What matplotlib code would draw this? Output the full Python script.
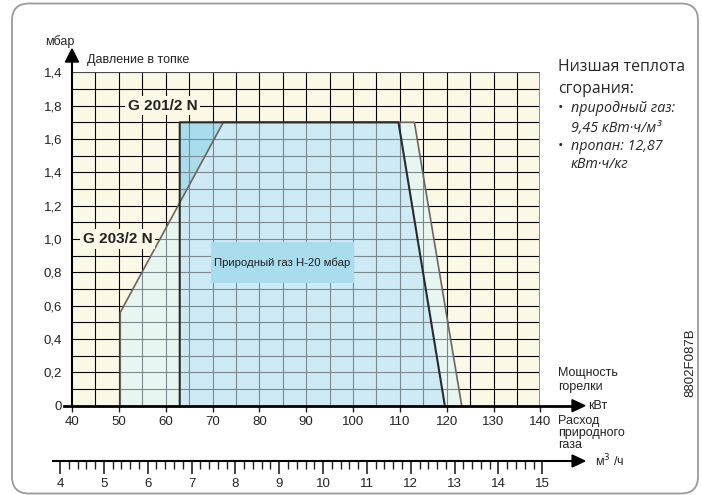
import matplotlib
matplotlib.use("Agg")
import matplotlib.pyplot as plt
import numpy as np
from matplotlib.patches import Polygon, Rectangle, FancyBboxPatch
from matplotlib.ticker import MultipleLocator

plt.rcParams['font.family'] = ['Liberation Sans', 'DejaVu Sans']

# burner output axis (kW) and furnace pressure axis (mbar)
kw_ticks = [40, 50, 60, 70, 80, 90, 100, 110, 120, 130, 140]
p_ticks = [0, 0.2, 0.4, 0.6, 0.8, 1.0, 1.2, 1.4, 1.6, 1.8, 2.0]
p_labels = ['0', '0,2', '0,4', '0,6', '0,8', '1,0', '1,2', '1,4', '1,6', '1,8', '1,4']

# working fields
g201_kw = [63, 63, 109.7, 119.6]
g201_mbar = [0, 1.7, 1.7, 0]
g203_kw = [50.3, 50.3, 72.3, 113.1, 123.2]
g203_mbar = [0, 0.56, 1.7, 1.7, 0]

# gas flow axis (m3/h)
flow_ticks = [4, 5, 6, 7, 8, 9, 10, 11, 12, 13, 14, 15]

W, H = 702, 495
fx = lambda px: px / W
fy = lambda py: 1 - py / H

fig = plt.figure(figsize=(7.02, 4.95), dpi=100)
ax = fig.add_axes([fx(72), fy(405.7), 468.4 / W, 333.4 / H])
ax.set_xlim(40, 140)
ax.set_ylim(0, 2.0)
ax.set_facecolor('#fbf9e6')
for s in ax.spines.values():
    s.set_visible(False)

# grid (black under the fields)
vx = np.arange(45, 140, 5)
hy = np.arange(0.1, 2.01, 0.1)
ax.vlines(vx, 0, 2.0, color='black', lw=0.8, zorder=1)
ax.hlines(hy, 40, 140, color='black', lw=0.8, zorder=1)
ax.vlines([140], 0, 2.0, color='#8a8a80', lw=1.4, zorder=1)
ax.hlines([2.0], 40, 140, color='#555555', lw=1.3, zorder=1)

# fill regions
y63 = np.interp(63, g203_kw[1:3], g203_mbar[1:3])
ax.add_patch(Polygon(np.column_stack([g203_kw, g203_mbar]), closed=True,
                     facecolor='#e7f6f1', edgecolor='none', zorder=2))
ax.add_patch(Polygon(np.column_stack([g201_kw, g201_mbar]), closed=True,
                     facecolor='#a9dcec', edgecolor='none', zorder=2))
inter_kw = [g201_kw[0], g201_kw[0], g203_kw[2], g201_kw[2], g201_kw[3]]
inter_mbar = [0, y63, g203_mbar[2], g201_mbar[2], 0]
ax.add_patch(Polygon(np.column_stack([inter_kw, inter_mbar]), closed=True,
                     facecolor='#cdeaf5', edgecolor='none', zorder=2))

# grey grid over the fields
union_kw = [g203_kw[0], g203_kw[1], g201_kw[0], g201_kw[1], g203_kw[3], g203_kw[4]]
union_mbar = [0, g203_mbar[1], y63, g201_mbar[1], g203_mbar[3], 0]
clip = Polygon(np.column_stack([union_kw, union_mbar]), closed=True,
               facecolor='none', edgecolor='none', zorder=2)
ax.add_patch(clip)
gv = ax.vlines(vx, 0, 2.0, color='#7d898d', lw=0.8, zorder=3)
gh = ax.hlines(hy, 40, 140, color='#7d898d', lw=0.8, zorder=3)
gv.set_clip_path(clip)
gh.set_clip_path(clip)

# outlines
ax.plot(g203_kw, g203_mbar, color='#6e655c', lw=1.2, zorder=4)
ax.plot(g201_kw, g201_mbar, color='#2a2a2a', lw=1.5, zorder=4)

# labels
ax.text(59.4, 1.8, 'G 201/2 N', fontsize=11, fontweight='bold', ha='center', va='center',
        color='#222222', zorder=5, bbox=dict(facecolor='#fbf9e6', edgecolor='none', pad=2))
ax.text(49.7, 1.0, 'G 203/2 N', fontsize=11, fontweight='bold', ha='center', va='center',
        color='#222222', zorder=5, bbox=dict(facecolor='#fbf9e6', edgecolor='none', pad=2))
ax.add_patch(Rectangle((69.7, 0.736), 30.5, 0.246, facecolor='#a9dcec', edgecolor='none', zorder=5))
ax.text(84.95, 0.859, 'Природный газ H-20 мбар', fontsize=8.2, ha='center', va='center',
        color='#222222', zorder=6)

# axes with arrows
ax.plot([38.3, 147], [0, 0], color='black', lw=2, clip_on=False, zorder=6)
ax.add_patch(Polygon([[146.75, 0.036], [146.75, -0.036], [149.5, 0]], closed=True,
                     color='black', clip_on=False, zorder=6))
ax.plot([40, 40], [0, 2.062], color='black', lw=1.5, clip_on=False, zorder=6)
ax.add_patch(Polygon([[38.6, 2.062], [41.4, 2.062], [40, 2.14]], closed=True,
                     color='black', clip_on=False, zorder=6))

ax.set_xticks(kw_ticks)
ax.set_yticks(p_ticks, p_labels)
ax.tick_params(axis='x', direction='out', length=4.5, width=1, pad=3, labelsize=9.5, colors='#222222')
ax.tick_params(axis='y', length=0, pad=7, labelsize=9.5, colors='#222222')

# gas flow scale
ax2 = fig.add_axes([fx(60), fy(471), 482.3 / W, 20 / H])
ax2.set_xlim(4, 15)
ax2.set_ylim(-1, 1)
ax2.patch.set_visible(False)
for s in ax2.spines.values():
    s.set_visible(False)
ax2.spines['bottom'].set_position(('data', 0))
ax2.set_yticks([])
ax2.set_xticks(flow_ticks)
ax2.xaxis.set_minor_locator(MultipleLocator(0.2))
ax2.tick_params(axis='x', which='major', direction='out', length=9, width=1.2, pad=3,
                labelsize=9.5, colors='#222222')
ax2.tick_params(axis='x', which='minor', direction='out', length=5.5, width=1, colors='#222222')
ax2.plot([3.84, 15.75], [0, 0], color='black', lw=1.5, clip_on=False)
ax2.add_patch(Polygon([[15.68, 0.6], [15.68, -0.6], [15.97, 0]], closed=True,
                      color='black', clip_on=False))

# texts around the chart
fig.text(fx(60), fy(42), 'мбар', fontsize=9, ha='center', va='center', color='#222222')
fig.text(fx(87), fy(60), 'Давление в топке', fontsize=9, ha='left', va='center', color='#222222')
fig.text(fx(558), fy(380), 'Мощность\nгорелки', fontsize=9, ha='left', va='center',
         linespacing=1.2, color='#222222')
fig.text(fx(588), fy(406), 'кВт', fontsize=9, ha='left', va='center', color='#222222')
fig.text(fx(558), fy(433), 'Расход\nприродного\nгаза', fontsize=9, ha='left', va='center',
         linespacing=0.95, color='#222222')
fig.text(fx(595), fy(461), 'м$^3$ /ч', fontsize=9, ha='left', va='center', color='#222222')
fig.text(fx(690), fy(363), '8802F087B', fontsize=9.5, rotation=90, ha='center', va='center',
         color='#222222')

tf = ['Open Sans', 'DejaVu Sans']
tc = '#262626'
fig.text(fx(558), fy(67), 'Низшая теплота', fontsize=11.4, family=tf, ha='left', va='center', color=tc)
fig.text(fx(558), fy(89), 'сгорания:', fontsize=11.4, family=tf, ha='left', va='center', color=tc)
fig.text(fx(558), fy(109), '•', fontsize=10.5, family=tf, ha='left', va='center', color=tc)
fig.text(fx(571), fy(109), 'природный газ:', fontsize=10.3, family=tf, style='italic',
         ha='left', va='center', color=tc)
fig.text(fx(571), fy(128), '9,45 кВт·ч/м³', fontsize=10.3, family=tf, style='italic',
         ha='left', va='center', color=tc)
fig.text(fx(558), fy(147), '•', fontsize=10.5, family=tf, ha='left', va='center', color=tc)
fig.text(fx(571), fy(147), 'пропан: 12,87', fontsize=10.3, family=tf, style='italic',
         ha='left', va='center', color=tc)
fig.text(fx(571), fy(165), 'кВт·ч/кг', fontsize=10.3, family=tf, style='italic',
         ha='left', va='center', color=tc)

# rounded frame
frame = FancyBboxPatch((0.12, 0.015), 6.86, 4.90, boxstyle='round,pad=0,rounding_size=0.17',
                       transform=fig.dpi_scale_trans, facecolor='none', edgecolor='#9a9a9a', lw=1.3)
fig.add_artist(frame)

fig.savefig('out.png', dpi=100)
